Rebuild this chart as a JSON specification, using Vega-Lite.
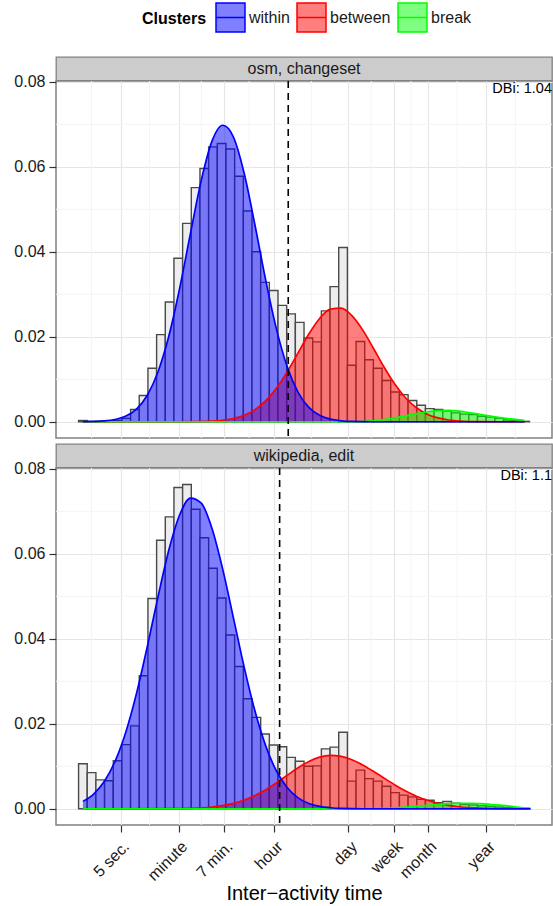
{
  "$schema": "https://vega.github.io/schema/vega-lite/v6.json",
  "padding": {"left": 13, "top": 2, "right": 0, "bottom": 0},
  "background": "white",
  "config": {
    "font": "Liberation Sans",
    "view": {"stroke": null},
    "axis": {
      "labelFont": "Liberation Sans", "labelFontSize": 16, "labelColor": "#1a1a1a",
      "tickColor": "#333333", "tickWidth": 1.2, "tickSize": 7, "labelPadding": 4,
      "domain": false, "gridColor": "#e6e6e6", "gridWidth": 1.2,
      "titleFont": "Liberation Sans", "titleFontSize": 20, "titleFontWeight": "normal", "titleColor": "#000000"
    },
    "legend": {"padding": 0}
  },
  "datasets": {
    "minor_x": [{"gx": 0.16}, {"gx": 1.239}, {"gx": 2.201}, {"gx": 3.09}, {"gx": 4.246}, {"gx": 5.359}, {"gx": 6.098}, {"gx": 6.957}, {"gx": 8.039}],
    "minor_y": [{"gy": 0.01}, {"gy": 0.03}, {"gy": 0.05}, {"gy": 0.07}],
    "bars_osm": [
      {"bin_start": -0.0806, "bin_end": 0.0806, "density": 0.0003},
      {"bin_start": 0.0806, "bin_end": 0.2418, "density": 0.0001},
      {"bin_start": 0.2418, "bin_end": 0.403, "density": 0.0001},
      {"bin_start": 0.403, "bin_end": 0.5642, "density": 0.0001},
      {"bin_start": 0.5642, "bin_end": 0.7254, "density": 0.0003},
      {"bin_start": 0.7254, "bin_end": 0.8866, "density": 0.0008},
      {"bin_start": 0.8866, "bin_end": 1.0478, "density": 0.0029},
      {"bin_start": 1.0478, "bin_end": 1.209, "density": 0.0062},
      {"bin_start": 1.209, "bin_end": 1.3702, "density": 0.0126},
      {"bin_start": 1.3702, "bin_end": 1.5314, "density": 0.0205},
      {"bin_start": 1.5314, "bin_end": 1.6926, "density": 0.0282},
      {"bin_start": 1.6926, "bin_end": 1.8538, "density": 0.0385},
      {"bin_start": 1.8538, "bin_end": 2.015, "density": 0.0467},
      {"bin_start": 2.015, "bin_end": 2.1762, "density": 0.0551},
      {"bin_start": 2.1762, "bin_end": 2.3374, "density": 0.0596},
      {"bin_start": 2.3374, "bin_end": 2.4986, "density": 0.0647},
      {"bin_start": 2.4986, "bin_end": 2.6598, "density": 0.0655},
      {"bin_start": 2.6598, "bin_end": 2.821, "density": 0.0642},
      {"bin_start": 2.821, "bin_end": 2.9822, "density": 0.0578},
      {"bin_start": 2.9822, "bin_end": 3.1434, "density": 0.0496},
      {"bin_start": 3.1434, "bin_end": 3.3046, "density": 0.04},
      {"bin_start": 3.3046, "bin_end": 3.4658, "density": 0.0328},
      {"bin_start": 3.4658, "bin_end": 3.627, "density": 0.0309},
      {"bin_start": 3.627, "bin_end": 3.7882, "density": 0.0274},
      {"bin_start": 3.7882, "bin_end": 3.9494, "density": 0.0254},
      {"bin_start": 3.9494, "bin_end": 4.1106, "density": 0.0234},
      {"bin_start": 4.1106, "bin_end": 4.2718, "density": 0.0197},
      {"bin_start": 4.2718, "bin_end": 4.433, "density": 0.0188},
      {"bin_start": 4.433, "bin_end": 4.5942, "density": 0.0261},
      {"bin_start": 4.5942, "bin_end": 4.7554, "density": 0.0318},
      {"bin_start": 4.7554, "bin_end": 4.9166, "density": 0.041},
      {"bin_start": 4.9166, "bin_end": 5.0778, "density": 0.0133},
      {"bin_start": 5.0778, "bin_end": 5.239, "density": 0.0189},
      {"bin_start": 5.239, "bin_end": 5.4002, "density": 0.0146},
      {"bin_start": 5.4002, "bin_end": 5.5614, "density": 0.0126},
      {"bin_start": 5.5614, "bin_end": 5.7226, "density": 0.0097},
      {"bin_start": 5.7226, "bin_end": 5.8838, "density": 0.007},
      {"bin_start": 5.8838, "bin_end": 6.045, "density": 0.0064},
      {"bin_start": 6.045, "bin_end": 6.2062, "density": 0.005},
      {"bin_start": 6.2062, "bin_end": 6.3674, "density": 0.0039},
      {"bin_start": 6.3674, "bin_end": 6.5286, "density": 0.0031},
      {"bin_start": 6.5286, "bin_end": 6.6898, "density": 0.0029},
      {"bin_start": 6.6898, "bin_end": 6.851, "density": 0.0025},
      {"bin_start": 6.851, "bin_end": 7.0122, "density": 0.0021},
      {"bin_start": 7.0122, "bin_end": 7.1734, "density": 0.0018},
      {"bin_start": 7.1734, "bin_end": 7.3346, "density": 0.0017},
      {"bin_start": 7.3346, "bin_end": 7.4958, "density": 0.0013},
      {"bin_start": 7.4958, "bin_end": 7.657, "density": 0.0011},
      {"bin_start": 7.657, "bin_end": 7.8182, "density": 0.0008},
      {"bin_start": 7.8182, "bin_end": 7.9794, "density": 0.0004},
      {"bin_start": 7.9794, "bin_end": 8.1406, "density": 0.0003},
      {"bin_start": 8.1406, "bin_end": 8.3018, "density": 0.0001}
    ],
    "bars_wiki": [
      {"bin_start": -0.0806, "bin_end": 0.0806, "density": 0.0106},
      {"bin_start": 0.0806, "bin_end": 0.2418, "density": 0.0085},
      {"bin_start": 0.2418, "bin_end": 0.403, "density": 0.0068},
      {"bin_start": 0.403, "bin_end": 0.5642, "density": 0.0066},
      {"bin_start": 0.5642, "bin_end": 0.7254, "density": 0.0113},
      {"bin_start": 0.7254, "bin_end": 0.8866, "density": 0.0151},
      {"bin_start": 0.8866, "bin_end": 1.0478, "density": 0.0195},
      {"bin_start": 1.0478, "bin_end": 1.209, "density": 0.0313},
      {"bin_start": 1.209, "bin_end": 1.3702, "density": 0.0495},
      {"bin_start": 1.3702, "bin_end": 1.5314, "density": 0.0632},
      {"bin_start": 1.5314, "bin_end": 1.6926, "density": 0.0687},
      {"bin_start": 1.6926, "bin_end": 1.8538, "density": 0.0756},
      {"bin_start": 1.8538, "bin_end": 2.015, "density": 0.0763},
      {"bin_start": 2.015, "bin_end": 2.1762, "density": 0.0705},
      {"bin_start": 2.1762, "bin_end": 2.3374, "density": 0.0638},
      {"bin_start": 2.3374, "bin_end": 2.4986, "density": 0.0566},
      {"bin_start": 2.4986, "bin_end": 2.6598, "density": 0.0496},
      {"bin_start": 2.6598, "bin_end": 2.821, "density": 0.0409},
      {"bin_start": 2.821, "bin_end": 2.9822, "density": 0.0335},
      {"bin_start": 2.9822, "bin_end": 3.1434, "density": 0.0259},
      {"bin_start": 3.1434, "bin_end": 3.3046, "density": 0.0215},
      {"bin_start": 3.3046, "bin_end": 3.4658, "density": 0.0176},
      {"bin_start": 3.4658, "bin_end": 3.627, "density": 0.015},
      {"bin_start": 3.627, "bin_end": 3.7882, "density": 0.0146},
      {"bin_start": 3.7882, "bin_end": 3.9494, "density": 0.0121},
      {"bin_start": 3.9494, "bin_end": 4.1106, "density": 0.0112},
      {"bin_start": 4.1106, "bin_end": 4.2718, "density": 0.01},
      {"bin_start": 4.2718, "bin_end": 4.433, "density": 0.0101},
      {"bin_start": 4.433, "bin_end": 4.5942, "density": 0.0141},
      {"bin_start": 4.5942, "bin_end": 4.7554, "density": 0.0145},
      {"bin_start": 4.7554, "bin_end": 4.9166, "density": 0.018},
      {"bin_start": 4.9166, "bin_end": 5.0778, "density": 0.0065},
      {"bin_start": 5.0778, "bin_end": 5.239, "density": 0.0091},
      {"bin_start": 5.239, "bin_end": 5.4002, "density": 0.0071},
      {"bin_start": 5.4002, "bin_end": 5.5614, "density": 0.0065},
      {"bin_start": 5.5614, "bin_end": 5.7226, "density": 0.0053},
      {"bin_start": 5.7226, "bin_end": 5.8838, "density": 0.0038},
      {"bin_start": 5.8838, "bin_end": 6.045, "density": 0.0032},
      {"bin_start": 6.045, "bin_end": 6.2062, "density": 0.0028},
      {"bin_start": 6.2062, "bin_end": 6.3674, "density": 0.0022},
      {"bin_start": 6.3674, "bin_end": 6.5286, "density": 0.002},
      {"bin_start": 6.5286, "bin_end": 6.6898, "density": 0.0014},
      {"bin_start": 6.6898, "bin_end": 6.851, "density": 0.0017},
      {"bin_start": 6.851, "bin_end": 7.0122, "density": 0.0013},
      {"bin_start": 7.0122, "bin_end": 7.1734, "density": 0.001},
      {"bin_start": 7.1734, "bin_end": 7.3346, "density": 0.0009},
      {"bin_start": 7.3346, "bin_end": 7.4958, "density": 0.0007},
      {"bin_start": 7.4958, "bin_end": 7.657, "density": 0.0006},
      {"bin_start": 7.657, "bin_end": 7.8182, "density": 0.0004},
      {"bin_start": 7.8182, "bin_end": 7.9794, "density": 0.0003},
      {"bin_start": 7.9794, "bin_end": 8.1406, "density": 0.0002},
      {"bin_start": 8.1406, "bin_end": 8.3018, "density": 0.0001}
    ],
    "curves_osm": [
      {"cluster": "between", "x": 0, "d": 0},
      {"cluster": "between", "x": 1.6, "d": 0},
      {"cluster": "between", "x": 2.0, "d": 0.00002},
      {"cluster": "between", "x": 2.4, "d": 0.00015},
      {"cluster": "between", "x": 2.8, "d": 0.00076},
      {"cluster": "between", "x": 3.0, "d": 0.00153},
      {"cluster": "between", "x": 3.2, "d": 0.00286},
      {"cluster": "between", "x": 3.4, "d": 0.00496},
      {"cluster": "between", "x": 3.6, "d": 0.00796},
      {"cluster": "between", "x": 3.8, "d": 0.01181},
      {"cluster": "between", "x": 4.0, "d": 0.01622},
      {"cluster": "between", "x": 4.2, "d": 0.02064},
      {"cluster": "between", "x": 4.4, "d": 0.02431},
      {"cluster": "between", "x": 4.6, "d": 0.0265},
      {"cluster": "between", "x": 4.8, "d": 0.02675},
      {"cluster": "between", "x": 5.0, "d": 0.02499},
      {"cluster": "between", "x": 5.2, "d": 0.02162},
      {"cluster": "between", "x": 5.4, "d": 0.01731},
      {"cluster": "between", "x": 5.6, "d": 0.01283},
      {"cluster": "between", "x": 5.8, "d": 0.00881},
      {"cluster": "between", "x": 6.0, "d": 0.0056},
      {"cluster": "between", "x": 6.2, "d": 0.00329},
      {"cluster": "between", "x": 6.4, "d": 0.00179},
      {"cluster": "between", "x": 6.6, "d": 0.0009},
      {"cluster": "between", "x": 6.8, "d": 0.00042},
      {"cluster": "between", "x": 7.0, "d": 0.00018},
      {"cluster": "between", "x": 7.4, "d": 0.00003},
      {"cluster": "between", "x": 7.8, "d": 0},
      {"cluster": "between", "x": 8.21, "d": 0},
      {"cluster": "break", "x": 0, "d": 0},
      {"cluster": "break", "x": 2, "d": 0},
      {"cluster": "break", "x": 4, "d": 0},
      {"cluster": "break", "x": 5.0, "d": 0},
      {"cluster": "break", "x": 5.2, "d": 0.00005},
      {"cluster": "break", "x": 5.4, "d": 0.0002},
      {"cluster": "break", "x": 5.6, "d": 0.0005},
      {"cluster": "break", "x": 5.8, "d": 0.0009},
      {"cluster": "break", "x": 6.0, "d": 0.0014},
      {"cluster": "break", "x": 6.2, "d": 0.0019},
      {"cluster": "break", "x": 6.4, "d": 0.0023},
      {"cluster": "break", "x": 6.6, "d": 0.0026},
      {"cluster": "break", "x": 6.8, "d": 0.0027},
      {"cluster": "break", "x": 7.0, "d": 0.0025},
      {"cluster": "break", "x": 7.2, "d": 0.0021},
      {"cluster": "break", "x": 7.4, "d": 0.0017},
      {"cluster": "break", "x": 7.6, "d": 0.0013},
      {"cluster": "break", "x": 7.8, "d": 0.0009},
      {"cluster": "break", "x": 8.0, "d": 0.0006},
      {"cluster": "break", "x": 8.21, "d": 0.0003},
      {"cluster": "within", "x": 0, "d": 0.00002},
      {"cluster": "within", "x": 0.4, "d": 0.00019},
      {"cluster": "within", "x": 0.8, "d": 0.00134},
      {"cluster": "within", "x": 1.0, "d": 0.00305},
      {"cluster": "within", "x": 1.2, "d": 0.00631},
      {"cluster": "within", "x": 1.4, "d": 0.0119},
      {"cluster": "within", "x": 1.6, "d": 0.02029},
      {"cluster": "within", "x": 1.8, "d": 0.03149},
      {"cluster": "within", "x": 2.0, "d": 0.04436},
      {"cluster": "within", "x": 2.2, "d": 0.0568},
      {"cluster": "within", "x": 2.4, "d": 0.06606},
      {"cluster": "within", "x": 2.6, "d": 0.06978},
      {"cluster": "within", "x": 2.8, "d": 0.06696},
      {"cluster": "within", "x": 3.0, "d": 0.05837},
      {"cluster": "within", "x": 3.2, "d": 0.04619},
      {"cluster": "within", "x": 3.4, "d": 0.03321},
      {"cluster": "within", "x": 3.6, "d": 0.02169},
      {"cluster": "within", "x": 3.8, "d": 0.01287},
      {"cluster": "within", "x": 4.0, "d": 0.00694},
      {"cluster": "within", "x": 4.2, "d": 0.00339},
      {"cluster": "within", "x": 4.4, "d": 0.00151},
      {"cluster": "within", "x": 4.6, "d": 0.00061},
      {"cluster": "within", "x": 4.8, "d": 0.00022},
      {"cluster": "within", "x": 5.0, "d": 0.00007},
      {"cluster": "within", "x": 5.4, "d": 0.00001},
      {"cluster": "within", "x": 6.0, "d": 0},
      {"cluster": "within", "x": 7.0, "d": 0},
      {"cluster": "within", "x": 8.0, "d": 0},
      {"cluster": "within", "x": 8.21, "d": 0}
    ],
    "curves_wiki": [
      {"cluster": "between", "x": 0, "d": 0},
      {"cluster": "between", "x": 1.6, "d": 0.00002},
      {"cluster": "between", "x": 2.0, "d": 0.00011},
      {"cluster": "between", "x": 2.4, "d": 0.00042},
      {"cluster": "between", "x": 2.8, "d": 0.00128},
      {"cluster": "between", "x": 3.0, "d": 0.00205},
      {"cluster": "between", "x": 3.2, "d": 0.00312},
      {"cluster": "between", "x": 3.4, "d": 0.0045},
      {"cluster": "between", "x": 3.6, "d": 0.00613},
      {"cluster": "between", "x": 3.8, "d": 0.00791},
      {"cluster": "between", "x": 4.0, "d": 0.00965},
      {"cluster": "between", "x": 4.2, "d": 0.01114},
      {"cluster": "between", "x": 4.4, "d": 0.01216},
      {"cluster": "between", "x": 4.6, "d": 0.01257},
      {"cluster": "between", "x": 4.8, "d": 0.01233},
      {"cluster": "between", "x": 5.0, "d": 0.01155},
      {"cluster": "between", "x": 5.2, "d": 0.01033},
      {"cluster": "between", "x": 5.4, "d": 0.00883},
      {"cluster": "between", "x": 5.6, "d": 0.0072},
      {"cluster": "between", "x": 5.8, "d": 0.00561},
      {"cluster": "between", "x": 6.0, "d": 0.00417},
      {"cluster": "between", "x": 6.2, "d": 0.00296},
      {"cluster": "between", "x": 6.4, "d": 0.002},
      {"cluster": "between", "x": 6.6, "d": 0.0013},
      {"cluster": "between", "x": 6.8, "d": 0.0008},
      {"cluster": "between", "x": 7.0, "d": 0.00047},
      {"cluster": "between", "x": 7.4, "d": 0.00014},
      {"cluster": "between", "x": 7.8, "d": 0.00004},
      {"cluster": "between", "x": 8.32, "d": 0},
      {"cluster": "break", "x": 0, "d": 0},
      {"cluster": "break", "x": 2, "d": 0},
      {"cluster": "break", "x": 4, "d": 0},
      {"cluster": "break", "x": 5.0, "d": 0},
      {"cluster": "break", "x": 5.4, "d": 0.00002},
      {"cluster": "break", "x": 5.6, "d": 0.00008},
      {"cluster": "break", "x": 5.8, "d": 0.0002},
      {"cluster": "break", "x": 6.0, "d": 0.0004},
      {"cluster": "break", "x": 6.2, "d": 0.0006},
      {"cluster": "break", "x": 6.4, "d": 0.0008},
      {"cluster": "break", "x": 6.6, "d": 0.001},
      {"cluster": "break", "x": 6.8, "d": 0.0012},
      {"cluster": "break", "x": 7.0, "d": 0.0013},
      {"cluster": "break", "x": 7.2, "d": 0.0013},
      {"cluster": "break", "x": 7.4, "d": 0.0012},
      {"cluster": "break", "x": 7.6, "d": 0.001},
      {"cluster": "break", "x": 7.8, "d": 0.0008},
      {"cluster": "break", "x": 8.0, "d": 0.0005},
      {"cluster": "break", "x": 8.2, "d": 0.0002},
      {"cluster": "break", "x": 8.32, "d": 0.0001},
      {"cluster": "within", "x": 0, "d": 0.00174},
      {"cluster": "within", "x": 0.2, "d": 0.00347},
      {"cluster": "within", "x": 0.4, "d": 0.00647},
      {"cluster": "within", "x": 0.6, "d": 0.01122},
      {"cluster": "within", "x": 0.8, "d": 0.01815},
      {"cluster": "within", "x": 1.0, "d": 0.02732},
      {"cluster": "within", "x": 1.2, "d": 0.03834},
      {"cluster": "within", "x": 1.4, "d": 0.05011},
      {"cluster": "within", "x": 1.6, "d": 0.06101},
      {"cluster": "within", "x": 1.8, "d": 0.06919},
      {"cluster": "within", "x": 2.0, "d": 0.0731},
      {"cluster": "within", "x": 2.2, "d": 0.07194},
      {"cluster": "within", "x": 2.4, "d": 0.06596},
      {"cluster": "within", "x": 2.6, "d": 0.05633},
      {"cluster": "within", "x": 2.8, "d": 0.04482},
      {"cluster": "within", "x": 3.0, "d": 0.03321},
      {"cluster": "within", "x": 3.2, "d": 0.02293},
      {"cluster": "within", "x": 3.4, "d": 0.01474},
      {"cluster": "within", "x": 3.6, "d": 0.00883},
      {"cluster": "within", "x": 3.8, "d": 0.00493},
      {"cluster": "within", "x": 4.0, "d": 0.00256},
      {"cluster": "within", "x": 4.2, "d": 0.00124},
      {"cluster": "within", "x": 4.4, "d": 0.00056},
      {"cluster": "within", "x": 4.6, "d": 0.00024},
      {"cluster": "within", "x": 4.8, "d": 0.00009},
      {"cluster": "within", "x": 5.2, "d": 0.00001},
      {"cluster": "within", "x": 6.0, "d": 0},
      {"cluster": "within", "x": 7.0, "d": 0},
      {"cluster": "within", "x": 8.0, "d": 0},
      {"cluster": "within", "x": 8.32, "d": 0}
    ]
  },
  "spacing": 3,
  "vconcat": [
    {
      "spacing": 0,
      "bounds": "flush",
      "vconcat": [
        {
          "width": 496, "height": 23.5,
          "view": {"fill": "#cccccc", "stroke": "#808080", "strokeWidth": 1.3},
          "data": {"values": [{"label": "osm, changeset"}]},
          "mark": {"type": "text", "fontSize": 16, "color": "#1a1a1a", "font": "Liberation Sans"},
          "encoding": {"text": {"field": "label", "type": "nominal"}}
        },
        {
          "width": 496, "height": 357,
          "view": {"fill": "white", "stroke": "#808080", "strokeWidth": 1.5},
          "layer": [
            {
              "data": {"name": "minor_x"},
              "mark": {"type": "rule", "color": "#f4f4f4", "strokeWidth": 1},
              "encoding": {
                "x": {"field": "gx", "type": "quantitative",
                  "scale": {"domain": [-0.5, 8.72], "nice": false, "zero": false},
                  "axis": {"values": [0.699, 1.778, 2.623, 3.556, 4.937, 5.782, 6.414, 7.499], "labels": false, "ticks": false, "title": null, "grid": true}}
              }
            },
            {
              "data": {"name": "minor_y"},
              "mark": {"type": "rule", "color": "#f4f4f4", "strokeWidth": 1},
              "encoding": {
                "y": {"field": "gy", "type": "quantitative",
                  "scale": {"domain": [-0.00382, 0.0802], "nice": false, "zero": false},
                  "axis": {"values": [0, 0.02, 0.04, 0.06, 0.08], "format": ".2f", "title": null, "grid": true}}
              }
            },
            {
              "data": {"name": "bars_osm"},
              "mark": {"type": "bar", "fill": "#ededed", "stroke": "#4a4a4a", "strokeWidth": 1.4},
              "encoding": {
                "x": {"field": "bin_start", "type": "quantitative"},
                "x2": {"field": "bin_end"},
                "y": {"field": "density", "type": "quantitative"},
                "y2": {"datum": 0}
              }
            },
            {
              "data": {"name": "curves_osm"},
              "mark": {"type": "area", "interpolate": "monotone", "opacity": 1},
              "encoding": {
                "x": {"field": "x", "type": "quantitative"},
                "y": {"field": "d", "type": "quantitative", "stack": null},
                "fill": {"field": "cluster", "type": "nominal",
                  "scale": {"domain": ["within", "between", "break"], "range": ["rgba(0,0,255,0.5)", "rgba(255,0,0,0.5)", "rgba(0,255,0,0.5)"]},
                  "legend": {"title": "Clusters", "orient": "none", "legendX": 86, "legendY": -55, "direction": "horizontal",
                    "titleOrient": "left", "titleAnchor": "middle", "titleBaseline": "middle", "titleFontSize": 16, "titleFontWeight": "bold", "titleColor": "#000000", "titleFont": "Liberation Sans", "titlePadding": 8,
                    "labelFontSize": 16, "labelFont": "Liberation Sans", "labelColor": "#1a1a1a", "labelOffset": 3, "columnPadding": 4,
                    "symbolType": "M-1,-1H1V1H-1Z M-1,0H1", "symbolSize": 841, "symbolStrokeWidth": 1.5,
                    "encode": {"symbols": {"fillOpacity": {"value": 1}}}}}
              }
            },
            {
              "data": {"name": "curves_osm"},
              "transform": [{"filter": "datum.cluster === 'between'"}],
              "mark": {"type": "line", "interpolate": "monotone", "strokeWidth": 1.7},
              "encoding": {
                "x": {"field": "x", "type": "quantitative"},
                "y": {"field": "d", "type": "quantitative"},
                "stroke": {"field": "cluster", "type": "nominal",
                  "scale": {"domain": ["within", "between", "break"], "range": ["#0000ff", "#ff0000", "#00ff00"]},
                  "legend": {"title": "Clusters", "orient": "none", "legendX": 86, "legendY": -55, "direction": "horizontal",
                    "titleOrient": "left", "titleAnchor": "middle", "titleBaseline": "middle", "titleFontSize": 16, "titleFontWeight": "bold", "titleColor": "#000000", "titleFont": "Liberation Sans", "titlePadding": 8,
                    "labelFontSize": 16, "labelFont": "Liberation Sans", "labelColor": "#1a1a1a", "labelOffset": 3, "columnPadding": 4,
                    "symbolType": "M-1,-1H1V1H-1Z M-1,0H1", "symbolSize": 841, "symbolStrokeWidth": 1.5}}
              }
            },
            {
              "data": {"name": "curves_osm"},
              "transform": [{"filter": "datum.cluster === 'break'"}],
              "mark": {"type": "line", "interpolate": "monotone", "strokeWidth": 1.7},
              "encoding": {
                "x": {"field": "x", "type": "quantitative"},
                "y": {"field": "d", "type": "quantitative"},
                "stroke": {"field": "cluster", "type": "nominal"}
              }
            },
            {
              "data": {"name": "curves_osm"},
              "transform": [{"filter": "datum.cluster === 'within'"}],
              "mark": {"type": "line", "interpolate": "monotone", "strokeWidth": 1.7},
              "encoding": {
                "x": {"field": "x", "type": "quantitative"},
                "y": {"field": "d", "type": "quantitative"},
                "stroke": {"field": "cluster", "type": "nominal"}
              }
            },
            {
              "data": {"values": [{"cut": 3.817}]},
              "mark": {"type": "rule", "strokeDash": [7, 5], "strokeWidth": 1.6, "color": "#000000"},
              "encoding": {"x": {"field": "cut", "type": "quantitative"}}
            },
            {
              "data": {"values": [{"t": "DBi: 1.04"}]},
              "mark": {"type": "text", "align": "right", "baseline": "top", "fontSize": 14.5, "color": "#000000", "dy": 1},
              "encoding": {"text": {"field": "t", "type": "nominal"}, "x": {"value": "width"}, "y": {"value": 0}}
            }
          ]
        }
      ]
    },
    {
      "spacing": 0,
      "bounds": "flush",
      "vconcat": [
        {
          "width": 496, "height": 23.5,
          "view": {"fill": "#cccccc", "stroke": "#808080", "strokeWidth": 1.3},
          "data": {"values": [{"label": "wikipedia, edit"}]},
          "mark": {"type": "text", "fontSize": 16, "color": "#1a1a1a", "font": "Liberation Sans"},
          "encoding": {"text": {"field": "label", "type": "nominal"}}
        },
        {
          "width": 496, "height": 357,
          "view": {"fill": "white", "stroke": "#808080", "strokeWidth": 1.5},
          "layer": [
            {
              "data": {"name": "minor_x"},
              "mark": {"type": "rule", "color": "#f4f4f4", "strokeWidth": 1},
              "encoding": {
                "x": {"field": "gx", "type": "quantitative",
                  "scale": {"domain": [-0.5, 8.72], "nice": false, "zero": false},
                  "axis": {"values": [0.699, 1.778, 2.623, 3.556, 4.937, 5.782, 6.414, 7.499],
                    "labelExpr": "datum.value < 1 ? '5 sec.' : datum.value < 2 ? 'minute' : datum.value < 3 ? '7 min.' : datum.value < 4 ? 'hour' : datum.value < 5.5 ? 'day' : datum.value < 6 ? 'week' : datum.value < 7 ? 'month' : 'year'",
                    "labelAngle": -45, "labelAlign": "right", "labelBaseline": "top", "labelOverlap": false, "labelFlush": false, "labelBound": false, "labelPadding": 6,
                    "title": "Inter\u2212activity time", "titlePadding": 0, "grid": true}}
              }
            },
            {
              "data": {"name": "minor_y"},
              "mark": {"type": "rule", "color": "#f4f4f4", "strokeWidth": 1},
              "encoding": {
                "y": {"field": "gy", "type": "quantitative",
                  "scale": {"domain": [-0.00382, 0.0802], "nice": false, "zero": false},
                  "axis": {"values": [0, 0.02, 0.04, 0.06, 0.08], "format": ".2f", "title": null, "grid": true}}
              }
            },
            {
              "data": {"name": "bars_wiki"},
              "mark": {"type": "bar", "fill": "#ededed", "stroke": "#4a4a4a", "strokeWidth": 1.4},
              "encoding": {
                "x": {"field": "bin_start", "type": "quantitative"},
                "x2": {"field": "bin_end"},
                "y": {"field": "density", "type": "quantitative"},
                "y2": {"datum": 0}
              }
            },
            {
              "data": {"name": "curves_wiki"},
              "mark": {"type": "area", "interpolate": "monotone", "opacity": 1},
              "encoding": {
                "x": {"field": "x", "type": "quantitative"},
                "y": {"field": "d", "type": "quantitative", "stack": null},
                "fill": {"field": "cluster", "type": "nominal",
                  "scale": {"domain": ["within", "between", "break"], "range": ["rgba(0,0,255,0.5)", "rgba(255,0,0,0.5)", "rgba(0,255,0,0.5)"]}}
              }
            },
            {
              "data": {"name": "curves_wiki"},
              "transform": [{"filter": "datum.cluster === 'between'"}],
              "mark": {"type": "line", "interpolate": "monotone", "strokeWidth": 1.7},
              "encoding": {
                "x": {"field": "x", "type": "quantitative"},
                "y": {"field": "d", "type": "quantitative"},
                "stroke": {"field": "cluster", "type": "nominal",
                  "scale": {"domain": ["within", "between", "break"], "range": ["#0000ff", "#ff0000", "#00ff00"]}}
              }
            },
            {
              "data": {"name": "curves_wiki"},
              "transform": [{"filter": "datum.cluster === 'break'"}],
              "mark": {"type": "line", "interpolate": "monotone", "strokeWidth": 1.7},
              "encoding": {
                "x": {"field": "x", "type": "quantitative"},
                "y": {"field": "d", "type": "quantitative"},
                "stroke": {"field": "cluster", "type": "nominal"}
              }
            },
            {
              "data": {"name": "curves_wiki"},
              "transform": [{"filter": "datum.cluster === 'within'"}],
              "mark": {"type": "line", "interpolate": "monotone", "strokeWidth": 1.7},
              "encoding": {
                "x": {"field": "x", "type": "quantitative"},
                "y": {"field": "d", "type": "quantitative"},
                "stroke": {"field": "cluster", "type": "nominal"}
              }
            },
            {
              "data": {"values": [{"cut": 3.657}]},
              "mark": {"type": "rule", "strokeDash": [7, 5], "strokeWidth": 1.6, "color": "#000000"},
              "encoding": {"x": {"field": "cut", "type": "quantitative"}}
            },
            {
              "data": {"values": [{"t": "DBi: 1.1"}]},
              "mark": {"type": "text", "align": "right", "baseline": "top", "fontSize": 14.5, "color": "#000000", "dy": 1},
              "encoding": {"text": {"field": "t", "type": "nominal"}, "x": {"value": "width"}, "y": {"value": 0}}
            }
          ]
        }
      ]
    }
  ]
}
